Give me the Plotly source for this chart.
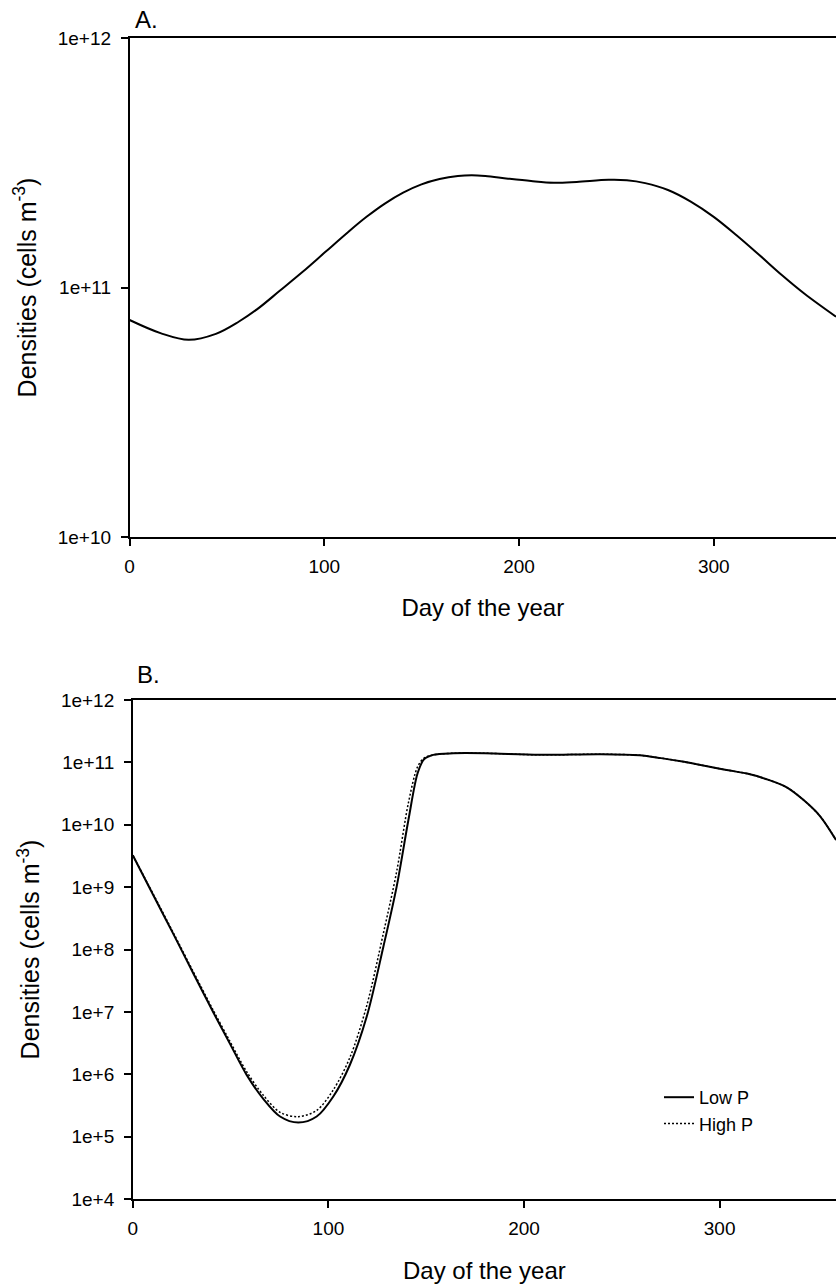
import plotly.graph_objects as go

# Panel A: seasonal cycle of total density
days_a = [0, 16.2, 30.3, 44.3, 56.0, 65.4, 77.1, 88.9, 100.6, 112.3, 121.7, 131.1, 140.5,
          149.9, 159.2, 168.6, 175.7, 182.7, 194.4, 206.2, 217.9, 229.6, 246.0, 255.4,
          264.8, 276.5, 288.2, 300.0, 311.7, 323.4, 335.1, 346.8, 362.8]
dens_a = [7.41e10, 6.55e10, 6.17e10, 6.52e10, 7.29e10, 8.17e10, 9.70e10, 1.156e11, 1.39e11,
          1.67e11, 1.92e11, 2.17e11, 2.40e11, 2.59e11, 2.72e11, 2.80e11, 2.82e11, 2.80e11,
          2.73e11, 2.67e11, 2.63e11, 2.65e11, 2.70e11, 2.69e11, 2.62e11, 2.46e11, 2.21e11,
          1.92e11, 1.62e11, 1.35e11, 1.12e11, 9.42e10, 7.64e10]

# Panel B: low vs high phosphorus scenarios
days_b = [0, 10.5, 20.7, 30.9, 41.2, 49.7, 58.2, 66.7, 75.3, 84.6, 94.0, 102.5, 111.0, 119.6,
          128.1, 134.9, 140.9, 145.6, 148.9, 153.6, 163.9, 180, 208, 239, 259, 270, 281,
          303.6, 314, 324, 334.3, 342.8, 351.3, 359.5]
dens_low_p = [3.24e9, 7.41e8, 1.78e8, 4.17e7, 9.75e6, 3.07e6, 9.77e5, 4.04e5, 2.10e5, 1.68e5,
              2.10e5, 4.40e5, 1.42e6, 8.41e6, 1.11e8, 1.02e9, 1.19e10, 6.68e10, 1.12e11,
              1.32e11, 1.40e11, 1.40e11, 1.32e11, 1.35e11, 1.30e11, 1.17e11, 1.03e11,
              7.55e10, 6.61e10, 5.37e10, 3.98e10, 2.51e10, 1.38e10, 5.70e9]
dens_high_p = [3.24e9, 7.67e8, 1.86e8, 4.42e7, 1.05e7, 3.35e6, 1.10e6, 4.62e5, 2.45e5, 2.09e5,
               2.63e5, 5.62e5, 1.86e6, 1.26e7, 1.82e8, 1.78e9, 2.24e10, 8.51e10, 1.17e11,
               1.32e11, 1.40e11, 1.40e11, 1.32e11, 1.35e11, 1.30e11, 1.17e11, 1.03e11,
               7.55e10, 6.61e10, 5.37e10, 3.98e10, 2.51e10, 1.38e10, 5.70e9]

tick_vals_a = [1e10, 1e11, 1e12]
tick_text_a = ["1e+10", "1e+11", "1e+12"]
tick_vals_b = [1e4, 1e5, 1e6, 1e7, 1e8, 1e9, 1e10, 1e11, 1e12]
tick_text_b = ["1e+4", "1e+5", "1e+6", "1e+7", "1e+8", "1e+9", "1e+10", "1e+11", "1e+12"]
x_ticks = [0, 100, 200, 300]

FONT = "Liberation Sans, Arial, sans-serif"
W, H = 836, 1287

fig = go.Figure()
fig.add_trace(go.Scatter(x=days_a, y=dens_a, mode="lines",
                         line=dict(color="black", width=2, shape="spline", smoothing=1.0),
                         showlegend=False, xaxis="x", yaxis="y"))
fig.add_trace(go.Scatter(x=days_b, y=dens_low_p, mode="lines", name="Low P",
                         line=dict(color="black", width=2, shape="spline", smoothing=0.9),
                         xaxis="x2", yaxis="y2"))
fig.add_trace(go.Scatter(x=days_b, y=dens_high_p, mode="lines", name="High P",
                         line=dict(color="black", width=1.5, dash="2px,2px", shape="spline",
                                   smoothing=0.9),
                         xaxis="x2", yaxis="y2"))


def x_axis(standoff):
    return dict(tickvals=x_ticks, ticks="outside", ticklen=7, tickwidth=1.5, tickcolor="black",
                showline=True, linecolor="black", linewidth=2, mirror=True, showgrid=False,
                zeroline=False, automargin=False, tickfont=dict(size=19, color="black"),
                ticklabelstandoff=4,
                title=dict(text="Day of the year", font=dict(size=24, color="black"),
                           standoff=standoff))


ycommon = dict(type="log", ticks="outside", ticklen=7, tickwidth=1.5, tickcolor="black",
               showline=True, linecolor="black", linewidth=1.5, showgrid=False, zeroline=False,
               automargin=False, tickfont=dict(size=19, color="black"), ticklabelstandoff=6,
               title=dict(text="Densities (cells m<sup>-3</sup>)", font=dict(size=25, color="black"),
                          standoff=14))

fig.update_layout(
    width=W, height=H,
    margin=dict(l=0, r=0, t=0, b=0, pad=0),
    paper_bgcolor="white", plot_bgcolor="white",
    font=dict(family=FONT, color="black"),
    xaxis=dict(x_axis(23), domain=[129.6 / W, 1.0], range=[0, 362.8], anchor="y"),
    yaxis=dict(ycommon, domain=[1 - 537 / H, 1 - 38 / H], range=[10, 12], anchor="x",
               tickvals=tick_vals_a, ticktext=tick_text_a),
    xaxis2=dict(x_axis(24), domain=[132.8 / W, 1.0], range=[0, 359.5], anchor="y2"),
    yaxis2=dict(ycommon, domain=[1 - 1199 / H, 1 - 700 / H], range=[4, 12], anchor="x2",
                tickvals=tick_vals_b, ticktext=tick_text_b),
    legend=dict(x=659 / W, y=1 - 1079 / H, xanchor="left", yanchor="top",
                bgcolor="rgba(0,0,0,0)", font=dict(size=18, color="black"),
                tracegroupgap=0),
    annotations=[
        dict(text="A.", x=133 / W, y=1 - 19 / H, xref="paper", yref="paper",
             xanchor="left", yanchor="middle", showarrow=False, font=dict(size=24, color="black")),
        dict(text="B.", x=135 / W, y=1 - 674 / H, xref="paper", yref="paper",
             xanchor="left", yanchor="middle", showarrow=False, font=dict(size=24, color="black")),
    ],
)

fig.write_html("out.html")
